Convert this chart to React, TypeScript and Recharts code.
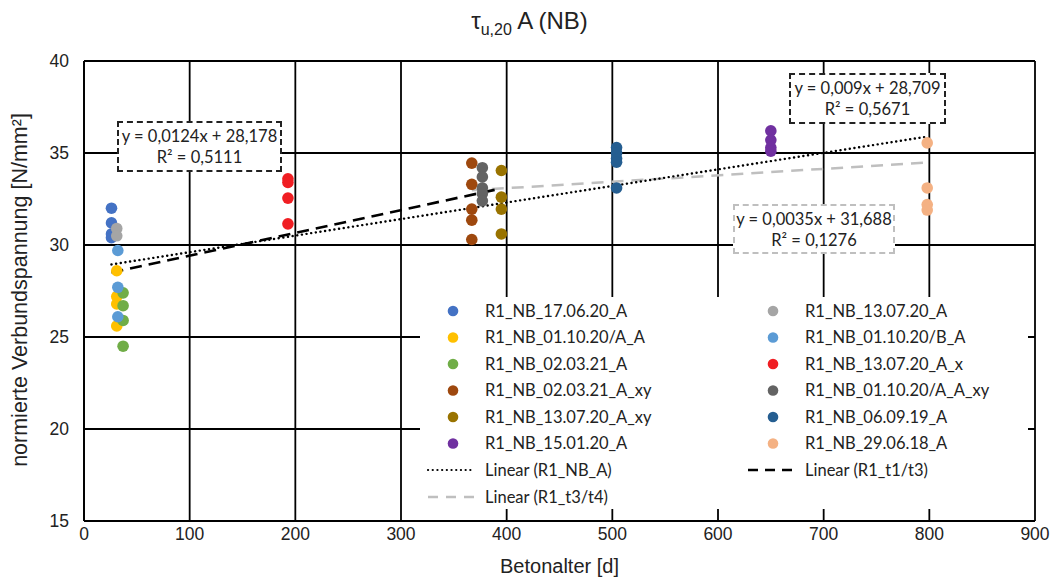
import React from "react";
import { ScatterChart, Scatter, XAxis, YAxis, CartesianGrid, ReferenceLine } from "recharts";

// measured points: [Betonalter (d), normierte Verbundspannung (N/mm²)]
const s170620A = [[26, 32.0], [26, 31.2], [26, 30.6], [26, 30.4]];
const s011020AA = [[31, 28.6], [31, 27.2], [31, 26.8], [31, 25.6]];
const s020321A = [[37, 27.4], [37, 26.7], [37, 25.9], [37, 24.5]];
const s020321Axy = [[367, 34.45], [367, 33.3], [367, 31.95], [367, 31.35], [367, 30.3]];
const s130720Axy = [[395, 34.05], [395, 32.6], [395, 31.95], [395, 30.6]];
const s150120A = [[650, 36.2], [650, 35.7], [650, 35.3], [650, 35.1]];
const s130720A = [[31, 30.9], [31, 30.5]];
const s011020BA = [[32, 29.7], [32, 27.7], [32, 26.1]];
const s130720Ax = [[193, 33.6], [193, 33.4], [193, 32.55], [193, 31.15]];
const s011020AAxy = [[377, 34.2], [377, 33.7], [377, 33.1], [377, 32.8], [377, 32.4]];
const s060919A = [[504, 35.3], [504, 35.0], [504, 34.7], [504, 34.5], [504, 33.1]];
const s290618A = [[798, 35.55], [798, 33.1], [798, 32.2], [798, 31.9]];

const seriesNames = [
  "R1_NB_17.06.20_A", "R1_NB_01.10.20/A_A", "R1_NB_02.03.21_A", "R1_NB_02.03.21_A_xy",
  "R1_NB_13.07.20_A_xy", "R1_NB_15.01.20_A", "R1_NB_13.07.20_A", "R1_NB_01.10.20/B_A",
  "R1_NB_13.07.20_A_x", "R1_NB_01.10.20/A_A_xy", "R1_NB_06.09.19_A", "R1_NB_29.06.18_A",
];
const seriesData = [
  s170620A, s011020AA, s020321A, s020321Axy, s130720Axy, s150120A,
  s130720A, s011020BA, s130720Ax, s011020AAxy, s060919A, s290618A,
];
const seriesColors = [
  "#4472C4", "#FFC000", "#70AD47", "#9E480E", "#997300", "#7030A0",
  "#A5A5A5", "#5B9BD5", "#F01E23", "#636363", "#255E91", "#F4B183",
];

// trendlines: slope, intercept, x range
const trendNB = { slope: 0.009, intercept: 28.709, from: 26, to: 798 };
const trendT1T3 = { slope: 0.0124, intercept: 28.178, from: 26, to: 395 };
const trendT3T4 = { slope: 0.0035, intercept: 31.688, from: 367, to: 798 };

const xTicks = [0, 100, 200, 300, 400, 500, 600, 700, 800, 900];
const yTicks = [15, 20, 25, 30, 35, 40];

const seg = (t: { slope: number; intercept: number; from: number; to: number }) => [
  { x: t.from, y: t.slope * t.from + t.intercept },
  { x: t.to, y: t.slope * t.to + t.intercept },
];

const legendFont = "Lato, 'Noto Sans', sans-serif";
const axisFont = "'Liberation Sans', Arial, sans-serif";

const boxStyle = (left: number, top: number, w: number, h: number, color: string): React.CSSProperties => ({
  position: "absolute",
  left,
  top,
  width: w,
  height: h,
  boxSizing: "border-box",
  border: `2px dashed ${color}`,
  background: "#fff",
  fontFamily: legendFont,
  fontSize: 16.5,
  color: "#222",
  textAlign: "center",
  lineHeight: "21px",
  paddingTop: 3,
});

function LegendBox() {
  const rowY = [311, 337.5, 364, 390.5, 417, 443.5];
  const items = seriesNames.map((name, i) => ({
    name,
    color: seriesColors[i],
    col: i < 6 ? 0 : 1,
    row: i % 6,
  }));
  return (
    <div style={{ position: "absolute", left: 420, top: 297, width: 608, height: 212, background: "#fff" }}>
      <svg width={608} height={212} style={{ position: "absolute", left: 0, top: 0 }}>
        {items.map((it) => (
          <g key={it.name}>
            <circle cx={(it.col ? 773 : 453) - 420} cy={rowY[it.row] - 297} r={5.3} fill={it.color} />
            <text
              x={(it.col ? 805 : 485) - 420}
              y={rowY[it.row] - 297}
              dy="0.35em"
              fontFamily={legendFont}
              fontSize={16.5}
              fill="#222"
            >
              {it.name}
            </text>
          </g>
        ))}
        <line x1={8} x2={53} y1={470 - 297} y2={470 - 297} stroke="#000" strokeWidth={2.2} strokeDasharray="0.1 4.6" strokeLinecap="round" />
        <text x={65} y={470 - 297} dy="0.35em" fontFamily={legendFont} fontSize={16.5} fill="#222">Linear (R1_NB_A)</text>
        <line x1={8} x2={55} y1={497 - 297} y2={497 - 297} stroke="#BFBFBF" strokeWidth={2.5} strokeDasharray="10 8" />
        <text x={65} y={497 - 297} dy="0.35em" fontFamily={legendFont} fontSize={16.5} fill="#222">Linear (R1_t3/t4)</text>
        <line x1={328} x2={376} y1={470 - 297} y2={470 - 297} stroke="#000" strokeWidth={2.5} strokeDasharray="10 7" />
        <text x={385} y={470 - 297} dy="0.35em" fontFamily={legendFont} fontSize={16.5} fill="#222">Linear (R1_t1/t3)</text>
      </svg>
    </div>
  );
}

export default function App() {
  return (
    <div style={{ position: "absolute", left: 0, top: 0, width: 1059, height: 584, background: "#fff" }}>
      <ScatterChart width={1059} height={584} margin={{ top: 61, right: 24, left: 24, bottom: 13 }}>
        <CartesianGrid stroke="#000" strokeWidth={1.8} />
        <XAxis
          type="number"
          dataKey="x"
          domain={[0, 900]}
          ticks={xTicks}
          height={50}
          tickLine={false}
          axisLine={{ stroke: "#000", strokeWidth: 1.8 }}
          tick={{ fill: "#222", fontSize: 17.5, fontFamily: axisFont }}
          tickMargin={1}
        />
        <YAxis
          type="number"
          dataKey="y"
          domain={[15, 40]}
          ticks={yTicks}
          width={60}
          tickLine={false}
          axisLine={{ stroke: "#000", strokeWidth: 1.8 }}
          tick={{ fill: "#222", fontSize: 17.5, fontFamily: axisFont }}
          tickMargin={9}
        />
        <ReferenceLine segment={seg(trendT3T4)} stroke="#BFBFBF" strokeWidth={2.5} strokeDasharray="12 8" ifOverflow="visible" />
        {seriesData.map((pts, i) => (
          <Scatter
            key={seriesNames[i]}
            name={seriesNames[i]}
            data={pts.map(([x, y]) => ({ x, y }))}
            isAnimationActive={false}
            shape={(p: any) => <circle cx={p.cx} cy={p.cy} r={5.8} fill={seriesColors[i]} />}
          />
        ))}
        <ReferenceLine segment={seg(trendNB)} stroke="#000" strokeWidth={2.4} strokeDasharray="0.1 4.6" strokeLinecap="round" ifOverflow="visible" />
        <ReferenceLine segment={seg(trendT1T3)} stroke="#000" strokeWidth={2.6} strokeDasharray="12 7" ifOverflow="visible" />
      </ScatterChart>

      <LegendBox />

      <div style={boxStyle(117, 121, 165, 51, "#222")}>
        y = 0,0124x + 28,178<br />R² = 0,5111
      </div>
      <div style={boxStyle(789, 73, 157, 51, "#222")}>
        y = 0,009x + 28,709<br />R² = 0,5671
      </div>
      <div style={boxStyle(733, 204, 162, 50, "#BFBFBF")}>
        y = 0,0035x + 31,688<br />R² = 0,1276
      </div>

      <div style={{ position: "absolute", left: 0, width: 1059, top: 7, textAlign: "center", fontFamily: axisFont, fontSize: 24, color: "#222" }}>
        τ<sub style={{ fontSize: 16 }}>u,20</sub> A (NB)
      </div>
      <div style={{ position: "absolute", left: 84, width: 951, top: 555, textAlign: "center", fontFamily: axisFont, fontSize: 20, color: "#222" }}>
        Betonalter [d]
      </div>
      <div
        style={{
          position: "absolute",
          left: 20,
          top: 290,
          transform: "translate(-50%, -50%) rotate(-90deg)",
          whiteSpace: "nowrap",
          fontFamily: axisFont,
          fontSize: 21.5,
          color: "#222",
        }}
      >
        normierte Verbundspannung [N/mm²]
      </div>
    </div>
  );
}
